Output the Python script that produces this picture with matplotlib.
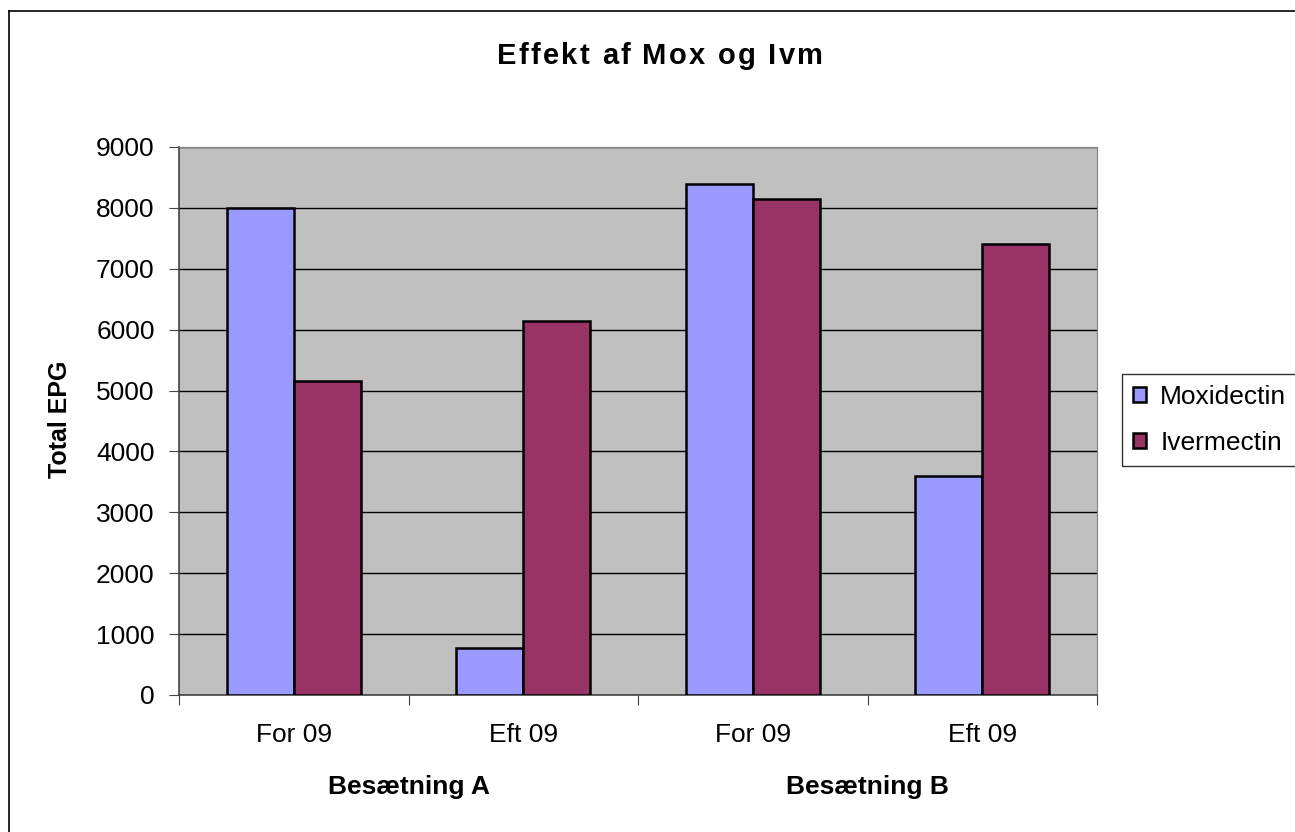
import numpy as np
import matplotlib
matplotlib.use("Agg")
import matplotlib.pyplot as plt
from matplotlib.lines import Line2D

plt.rcParams["font.family"] = ["Liberation Sans", "DejaVu Sans"]

# Data
categories = ["For 09", "Eft 09", "For 09", "Eft 09"]
groups = ["Besætning A", "Besætning B"]
moxidectin = [8000, 770, 8400, 3600]
ivermectin = [5150, 6150, 8150, 7400]
series_names = ["Moxidectin", "Ivermectin"]
series_colors = ["#9999FF", "#993366"]
yticks = [0, 1000, 2000, 3000, 4000, 5000, 6000, 7000, 8000, 9000]
title = "Effekt af Mox og Ivm"

W, H = 1295, 832
fig = plt.figure(figsize=(W / 100, H / 100), dpi=100)


def spaced_text(fig, xc_px, ybase_px, s, gap_px, **kw):
    """Draw text centred at xc_px with extra letter spacing (Excel look)."""
    r = fig.canvas.get_renderer()
    widths = []
    for ch in s:
        t = fig.text(0, 0, ch, **kw)
        widths.append(t.get_window_extent(r).width if ch != " " else None)
        t.remove()
    sp = fig.text(0, 0, "a a", **kw)
    sa = fig.text(0, 0, "aa", **kw)
    space_w = sp.get_window_extent(r).width - sa.get_window_extent(r).width
    sp.remove()
    sa.remove()
    widths = [space_w if w is None else w for w in widths]
    total = sum(widths) + gap_px * (len(s) - 1)
    x = xc_px - total / 2
    for ch, w in zip(s, widths):
        fig.text(x / W, 1 - ybase_px / H, ch, ha="left", va="baseline", **kw)
        x += w + gap_px


# outer chart frame (right/bottom edges fall outside the image)
fig.add_artist(Line2D([9 / W, 9 / W], [0, 1 - 11 / H], transform=fig.transFigure,
                      color="black", linewidth=1.2))
fig.add_artist(Line2D([9 / W, 1], [1 - 11 / H, 1 - 11 / H], transform=fig.transFigure,
                      color="black", linewidth=1.2))

ax = fig.add_axes([179 / W, 1 - 695 / H, 918 / W, 548 / H])
ax.set_facecolor("#C0C0C0")

x = np.arange(len(categories))
bw = 0.293
for vals, off, name, col in zip([moxidectin, ivermectin], [-bw / 2, bw / 2],
                                series_names, series_colors):
    ax.bar(x + off, vals, width=bw, color=col, edgecolor="black",
           linewidth=1.8, label=name, zorder=3)

ax.set_xlim(-0.5, len(categories) - 0.5)
ax.set_ylim(0, 9000)
ax.set_yticks(yticks)
ax.set_yticklabels([str(v) for v in yticks], fontsize=19)
ax.yaxis.grid(True, color="black", linewidth=1.0, zorder=1)
ax.set_axisbelow(True)

# category ticks at boundaries, labels in the middle
ax.set_xticks(np.arange(-0.5, len(categories), 1.0))
ax.set_xticklabels([])
ax.set_xticks(x, minor=True)
ax.set_xticklabels(categories, minor=True, fontsize=19)
ax.tick_params(axis="x", which="minor", length=0, pad=20)
ax.tick_params(axis="x", which="major", length=7.5, direction="out", color="#444444")
ax.tick_params(axis="y", length=7.5, direction="out", color="#444444", pad=10)

for s in ["top", "right"]:
    ax.spines[s].set_color("#808080")
for s in ["left", "bottom"]:
    ax.spines[s].set_color("#444444")
    ax.spines[s].set_linewidth(1.2)

# group labels
for gi, g in enumerate(groups):
    ax.text(gi * 2 + 0.5, -0.168, g, transform=ax.get_xaxis_transform(),
            ha="center", va="center", fontsize=19, fontweight="bold")

fig.text(60 / W, 1 - 419 / H, "Total EPG", rotation=90, ha="center", va="center",
         fontsize=18, fontweight="bold")

spaced_text(fig, 660, 64, title, 2.2, fontsize=21, fontweight="bold")

leg = fig.legend(loc="center left", bbox_to_anchor=(1122 / W, 1 - 420 / H),
                 fontsize=19, frameon=True, fancybox=False, edgecolor="black",
                 handlelength=0.5, handleheight=0.5, handletextpad=0.55,
                 borderpad=0.4, labelspacing=0.85, borderaxespad=0)
leg.get_frame().set_linewidth(1.0)

fig.savefig("out.png", dpi=100)
